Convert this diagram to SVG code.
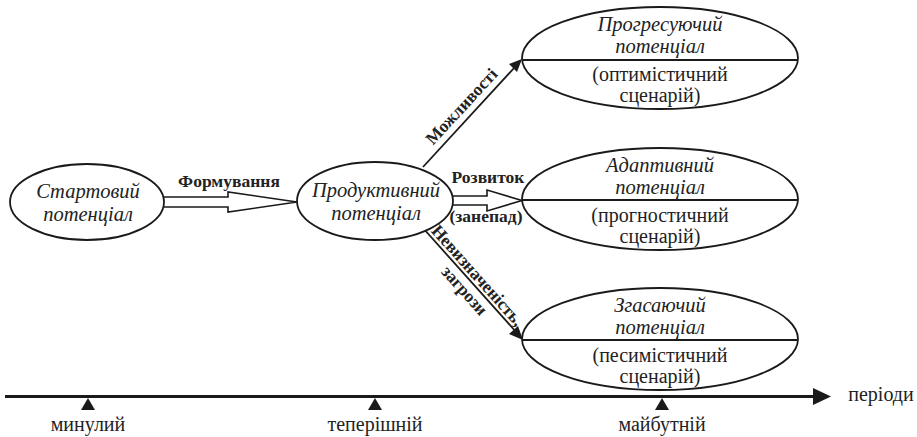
<svg xmlns="http://www.w3.org/2000/svg" width="917" height="437" viewBox="0 0 917 437">
<defs>
<style>
.el{fill:#fff;stroke:#1a1a1a;stroke-width:1.8}
.div{stroke:#1a1a1a;stroke-width:1.8}
text{font-family:'Liberation Serif','DejaVu Serif',serif;fill:#222;text-anchor:middle}
.it{font-style:italic;font-size:20.5px}
.rg{font-size:20px}
.bd{font-weight:bold;font-size:17.5px}
.ax{font-size:20px}
.hollow{fill:#fff;stroke:#1a1a1a;stroke-width:1.6;stroke-linejoin:miter}
.ln{stroke:#1a1a1a;stroke-width:1.8;fill:none}
</style>
</defs>
<rect width="917" height="437" fill="#fff"/>

<g id="connectors">
<path class="hollow" d="M163,197 L228,197 L228,192 L297,202 L228,212 L228,207 L163,207"/>
<path class="hollow" d="M453,196 L487,196 L487,190 L522,200.5 L487,211 L487,205 L453,205"/>
<line class="ln" x1="423" y1="167" x2="515" y2="67"/>
<polygon points="522,59 509,64 517,72" fill="#1a1a1a"/>
<line class="ln" x1="423" y1="228" x2="517" y2="333"/>
<polygon points="523,340 509,334 518,326" fill="#1a1a1a"/>
<text class="bd" x="229" y="187">Формування</text>
<text class="bd" x="488" y="183">Розвиток</text>
<text class="bd" x="486" y="222">(занепад)</text>
<text class="bd" transform="translate(462,107) rotate(-47.2)" y="5">Можливості</text>
<text class="bd" transform="translate(477,276) rotate(48.2)" y="5">Невизначеність,</text>
<text class="bd" transform="translate(464,291) rotate(48.2)" y="5">загрози</text>
</g>

<g id="start">
<ellipse class="el" cx="87" cy="202" rx="77" ry="38"/>
<text class="it" x="88" y="198">Стартовий</text>
<text class="it" x="88" y="221">потенціал</text>
</g>

<g id="productive">
<ellipse class="el" cx="375" cy="201" rx="78" ry="39"/>
<text class="it" x="376" y="197">Продуктивний</text>
<text class="it" x="376" y="220">потенціал</text>
</g>

<g id="progressive">
<ellipse class="el" cx="660" cy="58" rx="138" ry="51"/>
<line class="div" x1="522" y1="60" x2="798" y2="60"/>
<text class="it" x="660" y="31">Прогресуючий</text>
<text class="it" x="660" y="53">потенціал</text>
<text class="rg" x="660" y="81">(оптимістичний</text>
<text class="rg" x="660" y="102">сценарій)</text>
</g>

<g id="adaptive">
<ellipse class="el" cx="660" cy="199" rx="138" ry="51"/>
<line class="div" x1="522" y1="200" x2="798" y2="200"/>
<text class="it" x="660" y="172">Адаптивний</text>
<text class="it" x="660" y="194">потенціал</text>
<text class="rg" x="660" y="222">(прогностичний</text>
<text class="rg" x="660" y="243">сценарій)</text>
</g>

<g id="fading">
<ellipse class="el" cx="660" cy="339" rx="138" ry="51"/>
<line class="div" x1="522" y1="340" x2="798" y2="340"/>
<text class="it" x="660" y="312">Згасаючий</text>
<text class="it" x="660" y="334">потенціал</text>
<text class="rg" x="660" y="362">(песимістичний</text>
<text class="rg" x="660" y="383">сценарій)</text>
</g>

<g id="axis">
<line x1="5" y1="396.5" x2="815" y2="396.5" stroke="#1a1a1a" stroke-width="3"/>
<polygon points="813,388 831,396.5 813,405" fill="#1a1a1a"/>
<polygon points="81,410 88,398 95,410" fill="#1a1a1a"/>
<polygon points="368,410 375,398 382,410" fill="#1a1a1a"/>
<polygon points="655,410 662,398 669,410" fill="#1a1a1a"/>
<text class="ax" x="88" y="431">минулий</text>
<text class="ax" x="375" y="431">теперішній</text>
<text class="ax" x="662" y="431">майбутній</text>
<text class="ax" x="881" y="401">періоди</text>
</g>
</svg>
